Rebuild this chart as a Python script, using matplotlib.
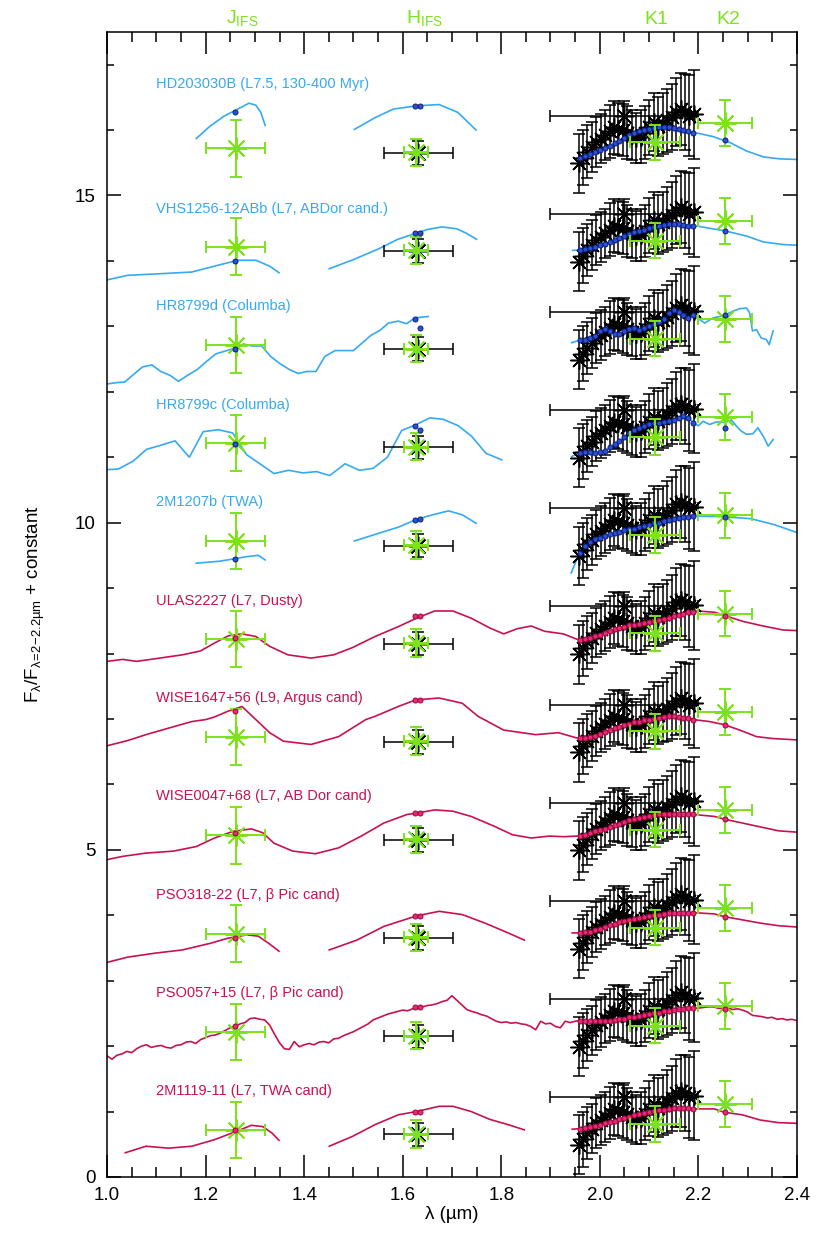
import numpy as np
import matplotlib
matplotlib.use('Agg')
import matplotlib.pyplot as plt
from matplotlib.ticker import MultipleLocator, FormatStrFormatter

plt.rcParams['font.family'] = ['Liberation Sans', 'DejaVu Sans']
plt.rcParams['mathtext.fontset'] = 'custom'
plt.rcParams['mathtext.rm'] = 'Liberation Sans'
plt.rcParams['mathtext.it'] = 'Liberation Sans:italic'
plt.rcParams['mathtext.bf'] = 'Liberation Sans:bold'

nan = np.nan

# ---------------- data ----------------
names = ["HD203030B (L7.5, 130-400 Myr)", "VHS1256-12ABb (L7, ABDor cand.)",
         "HR8799d (Columba)", "HR8799c (Columba)", "2M1207b (TWA)",
         "ULAS2227 (L7, Dusty)", "WISE1647+56 (L9, Argus cand)",
         "WISE0047+68 (L7, AB Dor cand)", "PSO318-22 (L7, β Pic cand)",
         "PSO057+15 (L7, β Pic cand)", "2M1119-11 (L7, TWA cand)"]
offsets = [15.0, 13.5, 12.0, 10.5, 9.0, 7.5, 6.0, 4.5, 3.0, 1.5, 0.0]
label_y = [16.70, 14.80, 13.31, 11.80, 10.31, 8.80, 7.32, 5.82, 4.31, 2.81, 1.31]
is_young = [True, True, True, True, True, False, False, False, False, False, False]

# model points sampled in the K band (dots)
kdot_wl = [1.96, 1.97, 1.98, 1.99, 2.00, 2.01, 2.02, 2.03, 2.04, 2.05, 2.06, 2.07,
           2.08, 2.09, 2.10, 2.11, 2.12, 2.13, 2.14, 2.15, 2.16, 2.17, 2.18, 2.19]

hd_pre_wl = [1.181, 1.209, 1.237, 1.265, 1.288, 1.302, 1.312, 1.321, nan,
             1.502, 1.544, 1.581, 1.628, 1.674, 1.712, 1.749, nan, 1.953]
hd_pre_fl = [0.87, 1.06, 1.21, 1.32, 1.41, 1.38, 1.27, 1.07, nan,
             1.01, 1.19, 1.32, 1.37, 1.39, 1.27, 1.00, nan, 0.57]
hd_k = [0.58, 0.61, 0.64, 0.67, 0.70, 0.73, 0.76, 0.80, 0.84, 0.88, 0.92, 0.95,
        0.98, 1.00, 1.02, 1.03, 1.04, 1.04, 1.04, 1.03, 1.02, 1.00, 0.98, 0.96]
hd_post_wl = [2.20, 2.23, 2.264, 2.298, 2.332, 2.365, 2.40]
hd_post_fl = [0.95, 0.90, 0.81, 0.68, 0.59, 0.56, 0.55]

vhs_pre_wl = [1.0, 1.042, 1.097, 1.172, 1.218, 1.265, 1.302, 1.33, 1.349, nan,
              1.451, 1.50, 1.55, 1.59, 1.626, 1.65, 1.68, 1.71, 1.73, 1.75, nan, 1.945]
vhs_pre_fl = [0.21, 0.28, 0.30, 0.33, 0.42, 0.51, 0.51, 0.42, 0.32, nan,
              0.38, 0.52, 0.68, 0.83, 0.92, 0.98, 1.02, 0.99, 0.92, 0.83, nan, 0.66]
vhs_k = [0.67, 0.68, 0.70, 0.72, 0.74, 0.76, 0.79, 0.82, 0.85, 0.88, 0.91, 0.94,
         0.96, 0.98, 1.00, 1.02, 1.04, 1.05, 1.06, 1.06, 1.06, 1.05, 1.04, 1.03]
vhs_post_wl = [2.20, 2.237, 2.254, 2.298, 2.332, 2.372, 2.40]
vhs_post_fl = [1.03, 0.98, 0.96, 0.88, 0.79, 0.75, 0.74]

hrd_pre_wl = [1.0, 1.02, 1.036, 1.053, 1.072, 1.091, 1.109, 1.128, 1.145, 1.163,
              1.183, 1.203, 1.221, 1.239, 1.26, 1.277, 1.294, 1.314, 1.332, 1.351,
              1.37, 1.388, 1.405, 1.424, 1.442, 1.463, 1.479, 1.50, 1.517, 1.535,
              1.554, 1.571, 1.591, 1.608, 1.625, 1.652, nan, 1.943]
hrd_pre_fl = [0.12, 0.14, 0.15, 0.26, 0.38, 0.41, 0.31, 0.25, 0.16, 0.25,
              0.34, 0.47, 0.58, 0.62, 0.67, 0.73, 0.70, 0.70, 0.54, 0.43,
              0.34, 0.28, 0.31, 0.31, 0.54, 0.63, 0.63, 0.63, 0.74, 0.86,
              0.94, 1.05, 1.08, 1.04, 1.13, 1.15, nan, 0.75]
hrd_k = [0.79, 0.79, 0.82, 0.86, 0.93, 0.96, 0.93, 0.89, 0.88, 0.93, 0.96, 0.97,
         0.95, 0.97, 1.00, 1.03, 1.07, 1.11, 1.20, 1.25, 1.22, 1.18, 1.13, 1.18]
hrd_post_wl = [2.20, 2.213, 2.23, 2.25, 2.27, 2.284, 2.298, 2.304, 2.31, 2.318,
               2.328, 2.338, 2.344, 2.352]
hrd_post_fl = [1.12, 1.05, 1.13, 1.16, 1.23, 1.27, 1.28, 1.21, 0.93, 0.95,
               0.82, 0.80, 0.72, 0.93]

hrc_pre_wl = [1.0, 1.023, 1.053, 1.08, 1.108, 1.138, 1.167, 1.195, 1.226, 1.255,
              1.283, 1.31, 1.339, 1.368, 1.398, 1.425, 1.452, 1.483, 1.512, 1.54,
              1.569, 1.598, 1.625, 1.655, 1.682, 1.713, 1.74, 1.769, 1.801, nan, 1.943]
hrc_pre_fl = [0.31, 0.32, 0.44, 0.62, 0.68, 0.75, 0.50, 0.89, 0.92, 0.87,
              0.54, 0.40, 0.25, 0.30, 0.26, 0.28, 0.22, 0.40, 0.30, 0.33,
              0.50, 0.91, 0.99, 1.10, 1.08, 0.98, 0.82, 0.56, 0.46, nan, 0.51]
hrc_k = [0.57, 0.58, 0.58, 0.57, 0.58, 0.60, 0.65, 0.70, 0.75, 0.81, 0.87, 0.91,
         0.94, 0.97, 1.00, 1.02, 1.03, 1.04, 1.05, 1.07, 1.10, 1.13, 1.10, 1.03]
hrc_post_wl = [2.20, 2.21, 2.223, 2.237, 2.254, 2.267, 2.277, 2.287, 2.298, 2.311,
               2.321, 2.332, 2.342, 2.352]
hrc_post_fl = [0.98, 1.05, 1.00, 1.04, 1.03, 1.07, 0.98, 0.90, 0.85, 0.86,
               0.95, 0.82, 0.67, 0.77]

m1207_pre_wl = [1.181, 1.228, 1.26, 1.283, 1.307, 1.321, nan,
                1.502, 1.544, 1.591, 1.628, 1.656, 1.693, 1.721, 1.749, nan, 1.942, 1.953]
m1207_pre_fl = [0.38, 0.41, 0.45, 0.48, 0.50, 0.43, nan,
                0.72, 0.82, 0.93, 1.05, 1.11, 1.18, 1.12, 0.99, nan, 0.23, 0.43]
m1207_k = [0.54, 0.65, 0.70, 0.75, 0.77, 0.80, 0.82, 0.84, 0.86, 0.88, 0.90, 0.91,
           0.93, 0.95, 0.97, 0.99, 1.00, 1.02, 1.04, 1.06, 1.07, 1.08, 1.09, 1.10]
m1207_post_wl = [2.20, 2.252, 2.307, 2.354, 2.40]
m1207_post_fl = [1.10, 1.09, 1.06, 0.97, 0.85]

ulas_pre_wl = [1.0, 1.032, 1.06, 1.107, 1.153, 1.19, 1.218, 1.246, 1.274, 1.302,
               1.33, 1.367, 1.414, 1.46, 1.498, 1.544, 1.591, 1.628, 1.665, 1.702,
               1.739, 1.777, 1.805, 1.833, 1.861, 1.888, 1.926, 1.953]
ulas_pre_fl = [0.38, 0.41, 0.38, 0.43, 0.48, 0.54, 0.66, 0.77, 0.80, 0.76,
               0.61, 0.48, 0.43, 0.48, 0.59, 0.76, 0.91, 1.04, 1.15, 1.15,
               1.04, 0.89, 0.80, 0.88, 0.92, 0.84, 0.80, 0.72]
ulas_k = [0.71, 0.72, 0.74, 0.77, 0.79, 0.82, 0.84, 0.87, 0.89, 0.91, 0.93, 0.94,
          0.95, 0.96, 0.98, 0.99, 1.01, 1.03, 1.05, 1.07, 1.09, 1.11, 1.13, 1.14]
ulas_post_wl = [2.20, 2.233, 2.254, 2.291, 2.332, 2.372, 2.40]
ulas_post_fl = [1.15, 1.13, 1.08, 0.99, 0.92, 0.86, 0.85]

w1647_pre_wl = [1.0, 1.042, 1.079, 1.125, 1.172, 1.2, 1.218, 1.246, 1.274, 1.302,
                1.33, 1.358, 1.414, 1.47, 1.525, 1.544, 1.591, 1.626, 1.674, 1.721,
                1.753, 1.805, 1.87, 1.916, 1.953]
w1647_pre_fl = [0.59, 0.67, 0.76, 0.86, 0.96, 0.99, 1.03, 1.12, 1.19, 0.99,
                0.79, 0.66, 0.61, 0.73, 0.99, 1.04, 1.19, 1.29, 1.32, 1.24,
                1.04, 0.83, 0.76, 0.79, 0.71]
w1647_k = [0.71, 0.71, 0.72, 0.74, 0.77, 0.80, 0.83, 0.86, 0.88, 0.91, 0.93, 0.95,
           0.96, 0.98, 0.99, 1.00, 1.02, 1.03, 1.04, 1.04, 1.03, 1.02, 1.01, 0.99]
w1647_post_wl = [2.223, 2.254, 2.284, 2.318, 2.352, 2.40]
w1647_post_fl = [0.96, 0.91, 0.83, 0.73, 0.70, 0.68]

w0047_pre_wl = [1.0, 1.032, 1.079, 1.135, 1.181, 1.218, 1.255, 1.293, 1.316, 1.339,
                1.377, 1.423, 1.47, 1.516, 1.562, 1.609, 1.628, 1.665, 1.702, 1.739,
                1.786, 1.823, 1.861, 1.898, 1.926, 1.953]
w0047_pre_fl = [0.35, 0.40, 0.45, 0.48, 0.55, 0.68, 0.78, 0.82, 0.76, 0.60,
                0.48, 0.44, 0.53, 0.71, 0.91, 1.04, 1.06, 1.11, 1.09, 1.01,
                0.86, 0.73, 0.68, 0.71, 0.70, 0.71]
w0047_k = [0.71, 0.73, 0.75, 0.78, 0.80, 0.82, 0.85, 0.88, 0.90, 0.93, 0.95, 0.97,
           0.99, 1.00, 1.02, 1.03, 1.04, 1.04, 1.05, 1.05, 1.05, 1.05, 1.05, 1.04]
w0047_post_wl = [2.233, 2.252, 2.289, 2.326, 2.363, 2.40]
w0047_post_fl = [1.01, 0.97, 0.91, 0.85, 0.79, 0.77]

p318_pre_wl = [1.0, 1.042, 1.097, 1.153, 1.209, 1.246, 1.284, 1.307, 1.33, 1.349, nan,
               1.451, 1.507, 1.562, 1.628, 1.674, 1.721, 1.767, 1.814, 1.847, nan, 1.944]
p318_pre_fl = [0.28, 0.36, 0.42, 0.47, 0.57, 0.65, 0.70, 0.68, 0.56, 0.45, nan,
               0.47, 0.62, 0.83, 0.99, 1.06, 1.01, 0.88, 0.73, 0.62, nan, 0.73]
p318_k = [0.73, 0.74, 0.75, 0.77, 0.79, 0.82, 0.85, 0.87, 0.89, 0.91, 0.93, 0.95,
          0.96, 0.97, 0.99, 1.00, 1.01, 1.02, 1.03, 1.03, 1.04, 1.04, 1.04, 1.04]
p318_post_wl = [2.233, 2.252, 2.289, 2.326, 2.363, 2.40]
p318_post_fl = [1.02, 0.98, 0.93, 0.88, 0.84, 0.82]

p057_pre_wl = [1.00, 1.01, 1.02, 1.03, 1.04, 1.05, 1.06, 1.07, 1.08, 1.09,
               1.10, 1.11, 1.12, 1.13, 1.14, 1.15, 1.16, 1.17, 1.18, 1.19,
               1.20, 1.21, 1.22, 1.23, 1.24, 1.25, 1.26, 1.27, 1.28, 1.29,
               1.30, 1.31, 1.32, 1.33, 1.34, 1.35, 1.36, 1.37, 1.38, 1.39,
               1.40, 1.41, 1.42, 1.43, 1.44, 1.45, 1.46, 1.47, 1.48, 1.49,
               1.50, 1.51, 1.52, 1.53, 1.54, 1.55, 1.56, 1.57, 1.58, 1.59,
               1.60, 1.61, 1.62, 1.63, 1.64, 1.65, 1.66, 1.67, 1.68, 1.69,
               1.70, 1.71, 1.72, 1.73, 1.74, 1.75, 1.76, 1.77, 1.78, 1.79,
               1.80, 1.81, 1.82, 1.83, 1.84, 1.85, 1.86, 1.87, 1.88, 1.89,
               1.90, 1.91, 1.92, 1.93, 1.94, 1.95]
p057_pre_fl = [0.35, 0.30, 0.36, 0.38, 0.42, 0.40, 0.46, 0.50, 0.52, 0.48,
               0.50, 0.51, 0.48, 0.47, 0.51, 0.52, 0.56, 0.57, 0.54, 0.60,
               0.63, 0.66, 0.67, 0.70, 0.74, 0.78, 0.80, 0.84, 0.86, 0.92,
               0.93, 0.91, 0.90, 0.82, 0.68, 0.55, 0.46, 0.45, 0.57, 0.49,
               0.52, 0.54, 0.52, 0.56, 0.57, 0.55, 0.61, 0.62, 0.66, 0.69,
               0.72, 0.76, 0.80, 0.84, 0.90, 0.93, 0.96, 0.99, 1.01, 1.03,
               1.05, 1.04, 1.07, 1.08, 1.10, 1.12, 1.13, 1.15, 1.18, 1.20,
               1.27, 1.20, 1.13, 1.06, 1.03, 1.01, 0.98, 0.96, 0.92, 0.88,
               0.86, 0.87, 0.85, 0.86, 0.84, 0.83, 0.80, 0.75, 0.88, 0.84,
               0.85, 0.80, 0.78, 0.88, 0.86, 0.88]
p057_k = [0.89, 0.88, 0.88, 0.88, 0.88, 0.88, 0.89, 0.90, 0.91, 0.92, 0.94, 0.95,
          0.96, 0.97, 0.99, 1.00, 1.01, 1.03, 1.04, 1.05, 1.06, 1.07, 1.08, 1.08]
p057_post_wl = [2.20, 2.21, 2.22, 2.23, 2.24, 2.25, 2.26, 2.27, 2.28, 2.29, 2.30,
                2.31, 2.32, 2.33, 2.34, 2.35, 2.36, 2.37, 2.38, 2.39, 2.40]
p057_post_fl = [1.08, 1.09, 1.10, 1.10, 1.08, 1.07, 1.08, 1.06, 1.07, 1.05, 1.02,
                0.97, 0.96, 0.95, 0.93, 0.94, 0.91, 0.92, 0.90, 0.91, 0.89]

m1119_pre_wl = [1.037, 1.079, 1.125, 1.172, 1.218, 1.26, 1.293, 1.316, 1.335, 1.349, nan,
                1.451, 1.498, 1.544, 1.591, 1.628, 1.674, 1.702, 1.739, 1.777, 1.814,
                1.847, nan, 1.944]
m1119_pre_fl = [0.37, 0.47, 0.44, 0.47, 0.57, 0.69, 0.79, 0.77, 0.67, 0.56, nan,
                0.47, 0.62, 0.80, 0.95, 1.00, 1.08, 1.08, 1.00, 0.88, 0.80,
                0.72, nan, 0.73]
m1119_k = [0.74, 0.75, 0.76, 0.78, 0.80, 0.82, 0.84, 0.86, 0.88, 0.90, 0.92, 0.94,
           0.96, 0.98, 0.99, 1.01, 1.02, 1.03, 1.04, 1.05, 1.05, 1.05, 1.05, 1.04]
m1119_post_wl = [2.233, 2.252, 2.289, 2.326, 2.363, 2.40]
m1119_post_fl = [1.04, 0.99, 0.95, 0.87, 0.83, 0.82]

# band-integrated model points (relative to offset)
jdot_rel = [1.27, 0.50, 0.66, 0.70, 0.45, 0.74, 1.12, 0.76, 0.65, 0.80, 0.72]
hdot1_rel = [1.37, 0.92, 1.11, 0.98, 1.04, 1.07, 1.29, 1.06, 0.99, 1.10, 1.00]
hdot2_rel = [1.37, 0.93, 0.98, 0.91, 1.05, 1.07, 1.29, 1.06, 0.99, 1.10, 1.00]
k2dot_rel = [0.85, 0.96, 1.17, 0.95, 1.09, 1.08, 0.91, 0.97, 0.98, 1.07, 1.00]
jdot_wl = 1.26
hdot_wl = [1.626, 1.635]
k2dot_wl = 2.254

# measured K-band spectrum (black), relative to offset
kspec_wl = [1.957, 1.966, 1.975, 1.984, 1.993, 2.002, 2.011, 2.020, 2.029, 2.038,
            2.047, 2.056, 2.065, 2.074, 2.083, 2.092, 2.101, 2.110, 2.119, 2.128,
            2.137, 2.146, 2.155, 2.164, 2.173, 2.182, 2.191]
kspec_rel = [0.49, 0.58, 0.67, 0.74, 0.82, 0.87, 0.92, 0.98, 1.04, 1.02,
             1.00, 0.96, 0.92, 0.88, 0.90, 0.96, 1.04, 1.12, 1.06, 1.10,
             1.15, 1.20, 1.28, 1.32, 1.28, 1.22, 1.24]
kspec_err = [0.45, 0.42, 0.40, 0.38, 0.38, 0.38, 0.38, 0.40, 0.40, 0.40,
             0.40, 0.40, 0.38, 0.38, 0.40, 0.40, 0.42, 0.44, 0.45, 0.46,
             0.48, 0.50, 0.52, 0.55, 0.58, 0.62, 0.68]
# black broadband points: (wl, rel, xerr, yerr)
kbroad = (2.05, 1.22, 0.15, 0.22)
hblack = (1.632, 0.65, 0.07, 0.18)

# green photometry: J, H, K1, K2
green_wl = [1.261, 1.627, 2.112, 2.254]
green_rel = [0.72, 0.66, 0.81, 1.11]
green_xerr = [0.06, 0.025, 0.051, 0.055]
green_yerr = [0.43, 0.21, 0.27, 0.35]
band_names = [r'J$_\mathregular{IFS}$', r'H$_\mathregular{IFS}$', 'K1', 'K2']
band_pos = [1.275, 1.645, 2.115, 2.26]

objects = [
    (hd_pre_wl, hd_pre_fl, hd_k, hd_post_wl, hd_post_fl),
    (vhs_pre_wl, vhs_pre_fl, vhs_k, vhs_post_wl, vhs_post_fl),
    (hrd_pre_wl, hrd_pre_fl, hrd_k, hrd_post_wl, hrd_post_fl),
    (hrc_pre_wl, hrc_pre_fl, hrc_k, hrc_post_wl, hrc_post_fl),
    (m1207_pre_wl, m1207_pre_fl, m1207_k, m1207_post_wl, m1207_post_fl),
    (ulas_pre_wl, ulas_pre_fl, ulas_k, ulas_post_wl, ulas_post_fl),
    (w1647_pre_wl, w1647_pre_fl, w1647_k, w1647_post_wl, w1647_post_fl),
    (w0047_pre_wl, w0047_pre_fl, w0047_k, w0047_post_wl, w0047_post_fl),
    (p318_pre_wl, p318_pre_fl, p318_k, p318_post_wl, p318_post_fl),
    (p057_pre_wl, p057_pre_fl, p057_k, p057_post_wl, p057_post_fl),
    (m1119_pre_wl, m1119_pre_fl, m1119_k, m1119_post_wl, m1119_post_fl),
]

# ---------------- styles ----------------
BLUE = '#35AAF2'
CRIMSON = '#C8124F'
BLUE_DOT_FACE, BLUE_DOT_EDGE = '#2B4FD6', '#0B1F7A'
RED_DOT_FACE, RED_DOT_EDGE = '#E8287A', '#9A0838'
GREEN = '#7CE21C'
AST = (8, 2, 0)

fig = plt.figure(figsize=(8.30, 12.46), dpi=100)
ax = fig.add_axes([0.129, 0.0554, 0.831, 0.919])

for i, (pw, pf, kk, qw, qf) in enumerate(objects):
    c = offsets[i]
    col = BLUE if is_young[i] else CRIMSON
    dface = BLUE_DOT_FACE if is_young[i] else RED_DOT_FACE
    dedge = BLUE_DOT_EDGE if is_young[i] else RED_DOT_EDGE
    wl = np.array(pw + kdot_wl + qw, dtype=float)
    fl = np.array(pf + kk + qf, dtype=float) + c
    ax.plot(wl, fl, color=col, lw=1.2, zorder=2)

    # black measured spectrum
    ax.errorbar(kspec_wl, np.array(kspec_rel) + c, yerr=kspec_err, fmt='none',
                ecolor='black', elinewidth=1.1, capsize=4, capthick=1.1, zorder=3)
    ax.plot(kspec_wl, np.array(kspec_rel) + c, ls='none', marker=AST, ms=13,
            mec='black', mew=1.1, zorder=3)
    ax.errorbar([kbroad[0]], [kbroad[1] + c], xerr=[kbroad[2]], yerr=[kbroad[3]],
                fmt='none', ecolor='black', elinewidth=1.1, capsize=4, capthick=1.1, zorder=3)
    ax.plot([kbroad[0]], [kbroad[1] + c], ls='none', marker=AST, ms=14,
            mec='black', mew=1.1, zorder=3)
    ax.errorbar([hblack[0]], [hblack[1] + c], xerr=[hblack[2]], yerr=[hblack[3]],
                fmt='none', ecolor='black', elinewidth=1.1, capsize=4, capthick=1.1, zorder=3)
    ax.plot([hblack[0]], [hblack[1] + c], ls='none', marker=AST, ms=14,
            mec='black', mew=1.1, zorder=3)

    # model dots
    ax.plot(kdot_wl, np.array(kk) + c, ls='none', marker='o', ms=3.6,
            mfc=dface, mec=dedge, mew=0.7, zorder=4)
    ax.plot([jdot_wl], [jdot_rel[i] + c], ls='none', marker='o', ms=3.6,
            mfc=dface, mec=dedge, mew=0.7, zorder=6)
    ax.plot(hdot_wl, [hdot1_rel[i] + c, hdot2_rel[i] + c], ls='none', marker='o', ms=3.6,
            mfc=dface, mec=dedge, mew=0.7, zorder=6)
    ax.plot([k2dot_wl], [k2dot_rel[i] + c], ls='none', marker='o', ms=3.6,
            mfc=dface, mec=dedge, mew=0.7, zorder=6)

    # green photometry
    ax.errorbar(green_wl, np.array(green_rel) + c, xerr=green_xerr, yerr=green_yerr,
                fmt='none', ecolor=GREEN, elinewidth=1.4, capsize=4.5, capthick=1.4, zorder=5)
    ax.plot(green_wl, np.array(green_rel) + c, ls='none', marker=AST, ms=16,
            mec=GREEN, mew=1.4, zorder=5)

    ax.text(1.10, label_y[i], names[i], color=col, fontsize=10.5,
            ha='left', va='center', zorder=7)

for name, xp in zip(band_names, band_pos):
    ax.text(xp, 1.003, name, color=GREEN, fontsize=14, ha='center', va='bottom',
            transform=ax.get_xaxis_transform())

ax.set_xlim(1.0, 2.4)
ax.set_ylim(0, 17.5)
ax.xaxis.set_major_locator(MultipleLocator(0.2))
ax.xaxis.set_minor_locator(MultipleLocator(0.05))
ax.xaxis.set_major_formatter(FormatStrFormatter('%.1f'))
ax.yaxis.set_major_locator(MultipleLocator(5))
ax.yaxis.set_minor_locator(MultipleLocator(1))
ax.tick_params(axis='both', which='both', direction='in', top=True, right=True,
               width=1.1, labelsize=13.5)
ax.tick_params(axis='x', which='major', length=15.5, pad=7)
ax.tick_params(axis='x', which='minor', length=7.5)
ax.tick_params(axis='y', which='major', length=10, pad=8)
ax.tick_params(axis='y', which='minor', length=5)
for s in ax.spines.values():
    s.set_linewidth(1.1)

ax.set_xlabel('λ (µm)', fontsize=13.5, labelpad=2)
ax.set_ylabel(r'F$_\mathregular{λ}$/F$_\mathregular{λ\!=\!2\!-\!2.2µm}$ + constant',
              fontsize=13.5, labelpad=20)

fig.savefig('out.png', dpi=100)
